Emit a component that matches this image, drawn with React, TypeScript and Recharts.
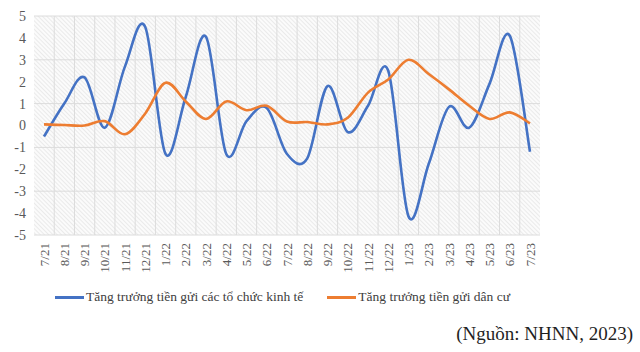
import { CartesianGrid, Legend, Line, LineChart, XAxis, YAxis } from "recharts";

const months = [
  "7/21", "8/21", "9/21", "10/21", "11/21", "12/21", "1/22", "2/22", "3/22",
  "4/22", "5/22", "6/22", "7/22", "8/22", "9/22", "10/22", "11/22", "12/22",
  "1/23", "2/23", "3/23", "4/23", "5/23", "6/23", "7/23",
];

// Tăng trưởng tiền gửi các tổ chức kinh tế (%)
const toChucKinhTe = [
  -0.5, 1.0, 2.2, -0.1, 2.7, 4.5, -1.3, 1.3, 4.05, -1.3, 0.2, 0.8, -1.3,
  -1.5, 1.8, -0.3, 0.9, 2.5, -4.15, -1.75, 0.85, -0.1, 1.9, 4.1, -1.2,
];

// Tăng trưởng tiền gửi dân cư (%)
const danCu = [
  0.05, 0.02, 0.0, 0.2, -0.4, 0.55, 1.95, 1.1, 0.3, 1.1, 0.7, 0.9, 0.18,
  0.16, 0.05, 0.35, 1.5, 2.1, 3.0, 2.35, 1.65, 0.9, 0.3, 0.6, 0.1,
];

const yTicks = [-5, -4, -3, -2, -1, 0, 1, 2, 3, 4, 5];

const seriesNames = [
  "Tăng trưởng tiền gửi các tổ chức kinh tế",
  "Tăng trưởng tiền gửi dân cư",
];

const data = months.map((month, i) => ({
  month,
  toChuc: toChucKinhTe[i],
  danCu: danCu[i],
}));

const FONT = "'Liberation Serif', 'Times New Roman', serif";

// smoothed line like Excel (catmull-rom through the points)
const smoothCurve = (ctx: any) => {
  let pts: number[][] = [];
  return {
    areaStart() {},
    areaEnd() {},
    lineStart() {
      pts = [];
    },
    lineEnd() {
      if (!pts.length) return;
      ctx.moveTo(pts[0][0], pts[0][1]);
      for (let i = 0; i < pts.length - 1; i++) {
        const p0 = pts[i - 1] || pts[i];
        const p1 = pts[i];
        const p2 = pts[i + 1];
        const p3 = pts[i + 2] || p2;
        ctx.bezierCurveTo(
          p1[0] + (p2[0] - p0[0]) / 6,
          p1[1] + (p2[1] - p0[1]) / 6,
          p2[0] - (p3[0] - p1[0]) / 6,
          p2[1] - (p3[1] - p1[1]) / 6,
          p2[0],
          p2[1]
        );
      }
    },
    point(x: number, y: number) {
      pts.push([+x, +y]);
    },
  };
};

const MonthTick = ({ x, y, payload }: any) => (
  <text
    x={x}
    y={y}
    transform={`rotate(-90 ${x} ${y})`}
    textAnchor="end"
    dominantBaseline="central"
    fontSize={13}
    fontFamily={FONT}
    fill="#595959"
  >
    {payload.value}
  </text>
);

const LegendContent = ({ payload }: any) => (
  <div style={{ display: "flex", alignItems: "center", height: 18 }}>
    {(payload || []).map((p: any) => (
      <div
        key={p.value}
        style={{ display: "flex", alignItems: "center", marginRight: 24 }}
      >
        <div
          style={{ width: 29, height: 3, background: p.color, marginRight: 2 }}
        />
        <span style={{ fontSize: 13.5, fontFamily: FONT, color: "#404040" }}>
          {p.value}
        </span>
      </div>
    ))}
  </div>
);

const App = () => {
  return (
    <div
      style={{
        position: "absolute",
        left: 0,
        top: 0,
        width: 640,
        height: 352,
        background: "#fff",
      }}
    >
      <LineChart
        width={640}
        height={352}
        data={data}
        margin={{ top: 16, right: 100, left: 0, bottom: 59 }}
      >
        <defs>
          <pattern
            id="hatch"
            width="3"
            height="3"
            patternUnits="userSpaceOnUse"
            patternTransform="rotate(-45)"
          >
            <rect width="3" height="3" fill="#fbfbfb" />
            <line x1="0" y1="0" x2="0" y2="3" stroke="#e2e2e2" strokeWidth="1.3" />
          </pattern>
        </defs>
        <CartesianGrid
          fill="url(#hatch)"
          stroke="#dcdcdc"
          verticalCoordinatesGenerator={({ offset }: any) =>
            months.slice(1).map((_, k) => offset.left + ((k + 1) * offset.width) / months.length)
          }
        />
        <XAxis
          dataKey="month"
          interval={0}
          padding={{ left: 10, right: 10 }}
          axisLine={false}
          tickLine={false}
          height={40}
          tick={<MonthTick />}
        />
        <YAxis
          domain={[-5, 5]}
          ticks={yTicks}
          width={34}
          axisLine={false}
          tickLine={false}
          tick={{ fontSize: 14, fontFamily: FONT, fill: "#595959" }}
        />
        <Legend
          verticalAlign="bottom"
          content={<LegendContent />}
          wrapperStyle={{ left: 55, top: 288, bottom: "auto", width: "auto" }}
        />
        <Line
          type={smoothCurve as any}
          dataKey="toChuc"
          name={seriesNames[0]}
          stroke="#4472C4"
          strokeWidth={2.6}
          dot={false}
          isAnimationActive={false}
        />
        <Line
          type={smoothCurve as any}
          dataKey="danCu"
          name={seriesNames[1]}
          stroke="#ED7D31"
          strokeWidth={2.6}
          dot={false}
          isAnimationActive={false}
        />
      </LineChart>
      <div
        style={{
          position: "absolute",
          right: 7,
          top: 323,
          fontSize: 19,
          fontFamily: FONT,
          color: "#1f1f1f",
          whiteSpace: "nowrap",
        }}
      >
        (Nguồn: NHNN, 2023)
      </div>
    </div>
  );
};

export default App;
